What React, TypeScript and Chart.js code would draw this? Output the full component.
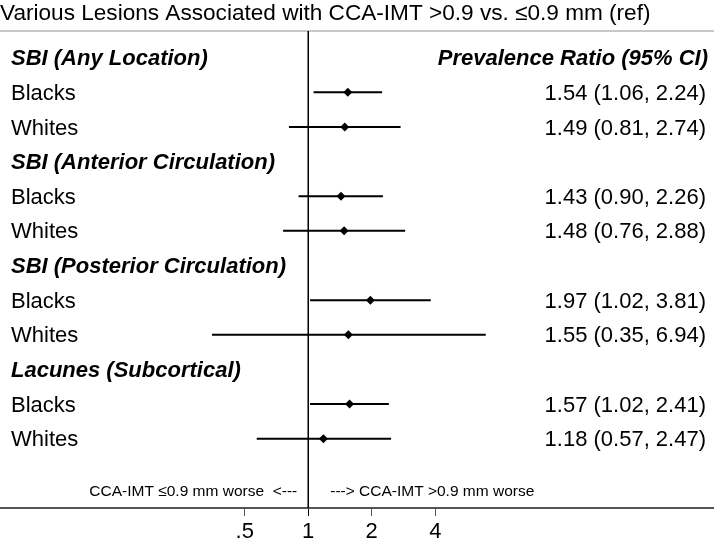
import React, { useEffect, useRef } from "react";
import { Chart, registerables } from "chart.js";

Chart.register(...registerables);

// ---- data ----
const ROW_LABELS = [
  "SBI (Any Location)",
  "Blacks",
  "Whites",
  "SBI (Anterior Circulation)",
  "Blacks",
  "Whites",
  "SBI (Posterior Circulation)",
  "Blacks",
  "Whites",
  "Lacunes (Subcortical)",
  "Blacks",
  "Whites",
];
const HEADER_ROWS = [0, 3, 6, 9];
const DATA_ROWS = [1, 2, 4, 5, 7, 8, 10, 11];
const ESTIMATES = [1.54, 1.49, 1.43, 1.48, 1.97, 1.55, 1.57, 1.18];
const LOWER = [1.06, 0.81, 0.9, 0.76, 1.02, 0.35, 1.02, 0.57];
const UPPER = [2.24, 2.74, 2.26, 2.88, 3.81, 6.94, 2.41, 2.47];
const COLUMN_HEADER = "Prevalence Ratio (95% CI)";
const TICK_VALUES = [0.5, 1, 2, 4];
const TICK_LABELS = [".5", "1", "2", "4"];
const TITLE = "Various Lesions Associated with CCA-IMT >0.9 vs. \u22640.9 mm (ref)";
const FAVOUR_LEFT = "CCA-IMT \u22640.9 mm worse  <---";
const FAVOUR_RIGHT = "---> CCA-IMT >0.9 mm worse";
const NULL_VALUE = 1;

// ---- axis range / layout constants ----
const X_MIN = 0.0346;
const X_MAX = 83.8;
const Y_MIN = -0.77;
const Y_MAX = 13;
const FAVOUR_ROW = 12.5;
const TEXT_DY = 1.5;

const FONT = '"Liberation Sans", Arial, Helvetica, sans-serif';

const fmt = (v: number) => v.toFixed(2);

const textPlugin = {
  id: "forestText",
  beforeDatasetsDraw(chart: any) {
    const { ctx, chartArea } = chart;
    ctx.save();
    ctx.strokeStyle = "#c8c8c8";
    ctx.lineWidth = 2;
    ctx.beginPath();
    ctx.moveTo(0, chartArea.top);
    ctx.lineTo(chart.width, chartArea.top);
    ctx.stroke();
    ctx.restore();
  },
  afterDatasetsDraw(chart: any) {
    const { ctx, chartArea, scales } = chart;
    const y = scales.y;
    const x = scales.x;
    ctx.save();
    ctx.fillStyle = "#000";
    ctx.textBaseline = "middle";
    ROW_LABELS.forEach((lab, i) => {
      const isHeader = HEADER_ROWS.includes(i);
      ctx.font = (isHeader ? "italic bold " : "") + "22px " + FONT;
      ctx.textAlign = "left";
      ctx.fillText(lab, chartArea.left + 11, y.getPixelForValue(i) + TEXT_DY);
    });
    ctx.font = "italic bold 22px " + FONT;
    ctx.textAlign = "right";
    ctx.fillText(COLUMN_HEADER, chartArea.right - 6, y.getPixelForValue(HEADER_ROWS[0]) + TEXT_DY);
    ctx.font = "22px " + FONT;
    DATA_ROWS.forEach((r, i) => {
      const s = `${fmt(ESTIMATES[i])} (${fmt(LOWER[i])}, ${fmt(UPPER[i])})`;
      ctx.fillText(s, chartArea.right - 8, y.getPixelForValue(r) + TEXT_DY);
    });
    // favour labels
    const x1 = x.getPixelForValue(NULL_VALUE);
    const fy = y.getPixelForValue(FAVOUR_ROW) + 1;
    ctx.font = "15.5px " + FONT;
    ctx.textAlign = "right";
    ctx.fillText(FAVOUR_LEFT, x1 - 11, fy);
    ctx.textAlign = "left";
    ctx.fillText(FAVOUR_RIGHT, x1 + 22, fy);
    ctx.restore();
  },
};

export default function App() {
  const ref = useRef<HTMLCanvasElement | null>(null);
  useEffect(() => {
    if (!ref.current) return;
    const ciSets = DATA_ROWS.map((r, i) => ({
      data: [
        { x: LOWER[i], y: r },
        { x: UPPER[i], y: r },
      ],
      showLine: true,
      borderColor: "#000",
      borderWidth: 2,
      pointRadius: 0,
      pointHoverRadius: 0,
    }));
    const chart = new Chart(ref.current, {
      type: "scatter",
      data: {
        datasets: [
          {
            data: DATA_ROWS.map((r, i) => ({ x: ESTIMATES[i], y: r })),
            pointStyle: "rectRot",
            pointRadius: 4.5,
            backgroundColor: "#000",
            borderColor: "#000",
            borderWidth: 0,
            showLine: false,
          },
          {
            data: [
              { x: NULL_VALUE, y: Y_MIN },
              { x: NULL_VALUE, y: Y_MAX },
            ],
            showLine: true,
            borderColor: "#000",
            borderWidth: 1.5,
            pointRadius: 0,
            pointHoverRadius: 0,
          },
          ...ciSets,
        ] as any,
      },
      options: {
        animation: false,
        responsive: false,
        devicePixelRatio: 1,
        layout: { padding: 0, autoPadding: false },
        plugins: {
          legend: { display: false },
          tooltip: { enabled: false },
          title: {
            display: true,
            text: TITLE,
            align: "start",
            color: "#000",
            font: { family: FONT, size: 22.6, weight: "normal" as any, lineHeight: 1.15 },
            padding: { top: 1, bottom: 4 },
          },
        },
        scales: {
          x: {
            type: "logarithmic",
            min: X_MIN,
            max: X_MAX,
            afterBuildTicks: (scale: any) => {
              scale.ticks = TICK_VALUES.map((v) => ({ value: v }));
            },
            afterFit: (scale: any) => {
              scale.height = 30;
              scale.paddingLeft = 0;
              scale.paddingRight = 0;
            },
            ticks: {
              autoSkip: false,
              maxRotation: 0,
              padding: 3,
              color: "#000",
              font: { family: FONT, size: 22 },
              callback: (_v: any, i: number) => TICK_LABELS[i],
            },
            grid: {
              display: true,
              drawOnChartArea: false,
              drawTicks: true,
              tickLength: 8,
              color: (c: any) => (c.tick && c.tick.value === NULL_VALUE ? "#000" : "#555"),
              lineWidth: 1,
            },
            border: { display: true, color: "#555", width: 2 },
          },
          y: {
            type: "linear",
            min: Y_MIN,
            max: Y_MAX,
            reverse: true,
            display: false,
          },
        },
      },
      plugins: [textPlugin],
    });
    return () => chart.destroy();
  }, []);
  return (
    <div style={{ position: "absolute", left: 0, top: 0, width: 714, height: 538, background: "#fff" }}>
      <canvas ref={ref} width={714} height={538} style={{ display: "block" }} />
    </div>
  );
}
